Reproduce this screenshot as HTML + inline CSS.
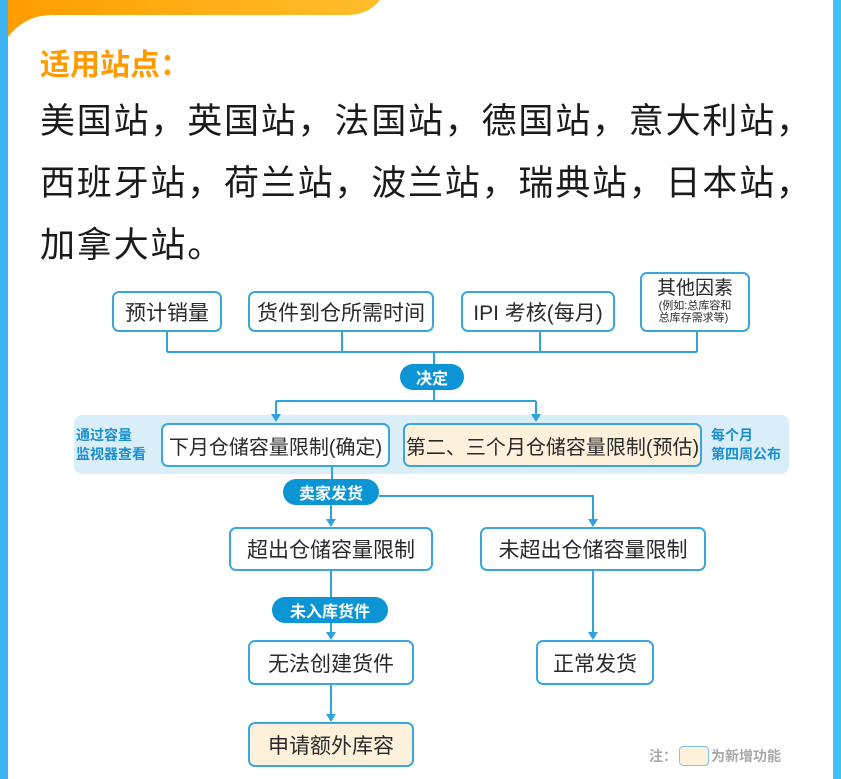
<!DOCTYPE html>
<html><head><meta charset="utf-8"><style>
*{margin:0;padding:0;box-sizing:border-box}
body{width:841px;height:779px;background:#fff;position:relative;overflow:hidden;font-family:"Liberation Sans","Noto Sans CJK SC",sans-serif;color:#222}
.a{position:absolute}
.box{position:absolute;border:2px solid #3aa6de;border-radius:7px;background:#fff;display:flex;align-items:center;justify-content:center;font-size:21px;color:#2a2a2a;white-space:nowrap}
.pill{position:absolute;background:#0b95d5;color:#fff;border-radius:14px;display:flex;align-items:center;justify-content:center;font-size:16px;font-weight:bold;white-space:nowrap}
.line{font-size:35px;letter-spacing:1.8px;left:40px;white-space:nowrap;color:#1a1a1a}
.side{font-size:14px;font-weight:bold;color:#1a8fd0;line-height:19px}
</style></head><body>
<div class="a" style="left:0;top:0;width:8px;height:779px;background:#3db2f0"></div>
<div class="a" style="left:833px;top:0;width:8px;height:779px;background:#3fc0f2"></div>
<svg class="a" style="left:0;top:0" width="841" height="60">
<defs><linearGradient id="g" x1="0" x2="1"><stop offset="0" stop-color="#ff9d00"/><stop offset="1" stop-color="#ffbe2a"/></linearGradient></defs>
<path d="M8 0 H380 Q368 15 348 15 H52 Q25 15 8 37 Z" fill="url(#g)"/>
</svg>
<div class="a" style="left:40px;top:40px;font-size:30px;font-weight:bold;color:#ff9a00">适用站点：</div>
<div class="a line" style="top:93px">美国站，英国站，法国站，德国站，意大利站，</div>
<div class="a line" style="top:155px">西班牙站，荷兰站，波兰站，瑞典站，日本站，</div>
<div class="a line" style="top:217px">加拿大站。</div>

<div class="a" style="left:74px;top:415px;width:715px;height:59px;background:#d9eef9;border-radius:8px"></div>

<svg class="a" style="left:0;top:0" width="841" height="779" fill="none" stroke="#2ea3dd" stroke-width="2">
<path d="M167 332V352M342 332V352M540 332V352M697 332V352M167 352H697M434 352V364"/>
<path d="M434 390V401M276 401H536M276 401V416M536 401V416"/>
<path d="M332 467V480M379 496H593V520"/>
<path d="M331 504V520M331 571V598M331 622V633M331 685V715M593 571V633"/>
<g fill="#2ea3dd" stroke="none">
<path d="M271 414h10l-5 8z M531 414h10l-5 8z M326 519h10l-5 8z M588 519h10l-5 8z M326 632h10l-5 8z M588 632h10l-5 8z M326 714h10l-5 8z"/>
</g>
</svg>

<div class="box" style="left:112px;top:291px;width:110px;height:41px">预计销量</div>
<div class="box" style="left:248px;top:291px;width:186px;height:41px">货件到仓所需时间</div>
<div class="box" style="left:461px;top:291px;width:154px;height:41px">IPI 考核(每月)</div>
<div class="box" style="left:640px;top:272px;width:110px;height:60px;flex-direction:column;line-height:1.1"><span style="font-size:19px">其他因素</span><span style="font-size:11px">(例如:总库容和<br>总库存需求等)</span></div>
<div class="pill" style="left:400px;top:364px;width:64px;height:26px">决定</div>
<div class="a side" style="left:76px;top:426px">通过容量<br>监视器查看</div>
<div class="a side" style="left:711px;top:426px">每个月<br>第四周公布</div>
<div class="box" style="left:161px;top:423px;width:229px;height:44px;font-size:20px">下月仓储容量限制(确定)</div>
<div class="box" style="left:403px;top:423px;width:299px;height:44px;background:#fdf1dc;font-size:20px">第二、三个月仓储容量限制(预估)</div>
<div class="pill" style="left:283px;top:479px;width:96px;height:26px">卖家发货</div>
<div class="box" style="left:229px;top:527px;width:204px;height:44px">超出仓储容量限制</div>
<div class="box" style="left:480px;top:527px;width:226px;height:44px">未超出仓储容量限制</div>
<div class="pill" style="left:272px;top:597px;width:116px;height:26px">未入库货件</div>
<div class="box" style="left:248px;top:640px;width:166px;height:45px">无法创建货件</div>
<div class="box" style="left:536px;top:640px;width:118px;height:45px">正常发货</div>
<div class="box" style="left:248px;top:722px;width:166px;height:45px;background:#fdf1dc">申请额外库容</div>
<div class="a" style="left:649px;top:746px;font-size:14px;font-weight:bold;color:#a8a8a8;display:flex;align-items:center">注：<span style="display:inline-block;width:30px;height:20px;border:1.5px solid #7cc6ea;border-radius:4px;background:#fdf1dc;margin:0 2px"></span>为新增功能</div>
</body></html>
